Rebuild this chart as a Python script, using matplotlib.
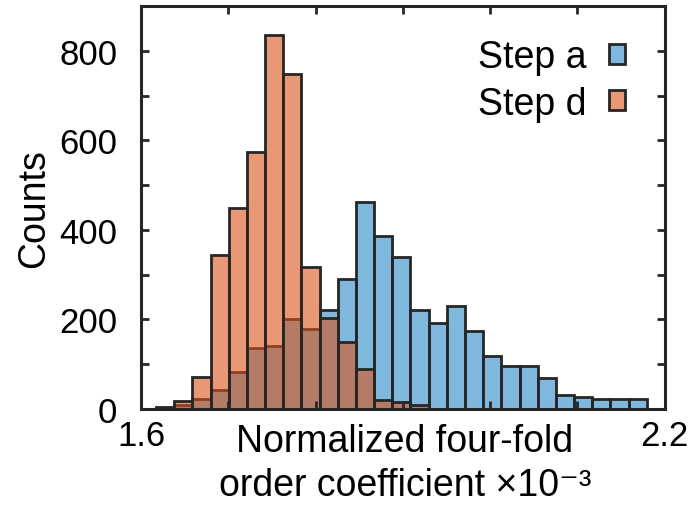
import numpy as np
import matplotlib
matplotlib.use("Agg")
import matplotlib.pyplot as plt

plt.rcParams['font.family'] = ['Liberation Sans', 'DejaVu Sans']

# bin edges shared by both histograms
bin_lo, bin_hi, n_bins = 1.6172, 2.1794, 27
edges = np.linspace(bin_lo, bin_hi, n_bins + 1)

# counts per bin
step_a = [5, 8, 21, 43, 83, 136, 140, 200, 179, 222, 290, 462, 386, 339,
          222, 192, 229, 175, 118, 95, 95, 69, 31, 26, 22, 22, 22]
step_d = [1, 17, 71, 344, 448, 574, 836, 749, 318, 203, 149, 88, 19, 15,
          9, 0, 0, 0, 0, 0, 0, 0, 0, 0, 0, 0, 0]

x_ticks = [1.6, 1.7, 1.8, 1.9, 2.0, 2.1, 2.2]
x_ticklabels = ['1.6', '', '', '', '', '', '2.2']
y_ticks = list(range(0, 901, 100))
y_ticklabels = [str(v) if v % 200 == 0 and v < 900 else '' for v in y_ticks]

blue = (0.0, 0.447, 0.741, 0.5)
orange = (0.85, 0.325, 0.098, 0.6)
edge = '#262626'

fig = plt.figure(figsize=(6.91, 5.06), dpi=100)
ax = fig.add_axes([0.204, 0.190, 0.758, 0.796])

centers = 0.5 * (edges[:-1] + edges[1:])
ax.hist(centers, bins=edges, weights=step_a, facecolor=blue,
        edgecolor=edge, linewidth=2.0, label='Step a')
ax.hist(centers, bins=edges, weights=step_d, facecolor=orange,
        edgecolor=edge, linewidth=2.0, label='Step d')

ax.set_xlim(1.6, 2.2)
ax.set_ylim(0, 900)
ax.set_xticks(x_ticks)
ax.set_xticklabels(x_ticklabels)
ax.set_yticks(y_ticks)
ax.set_yticklabels(y_ticklabels)
ax.tick_params(direction='in', length=6, width=2, colors=edge,
               labelcolor='black', labelsize=25, top=True, right=True)
ax.tick_params(axis='x', pad=7)
ax.tick_params(axis='y', pad=17)
for s in ax.spines.values():
    s.set_linewidth(2.2)
    s.set_color(edge)

ax.set_xlabel('Normalized four-fold\norder coefficient \u00d710\u207b\u00b3',
              fontsize=27, linespacing=1.3)
ax.xaxis.set_label_coords(0.504, -0.035)
ax.set_ylabel('Counts', fontsize=27)
ax.yaxis.set_label_coords(-0.17, 0.5)

ax.legend(loc='upper right', bbox_to_anchor=(0.925, 0.918), frameon=False,
          markerfirst=False, fontsize=27, handlelength=0.45, handleheight=0.45,
          handletextpad=0.6, labelspacing=0.28, borderpad=0, borderaxespad=0)

fig.savefig('out.png', dpi=100)
